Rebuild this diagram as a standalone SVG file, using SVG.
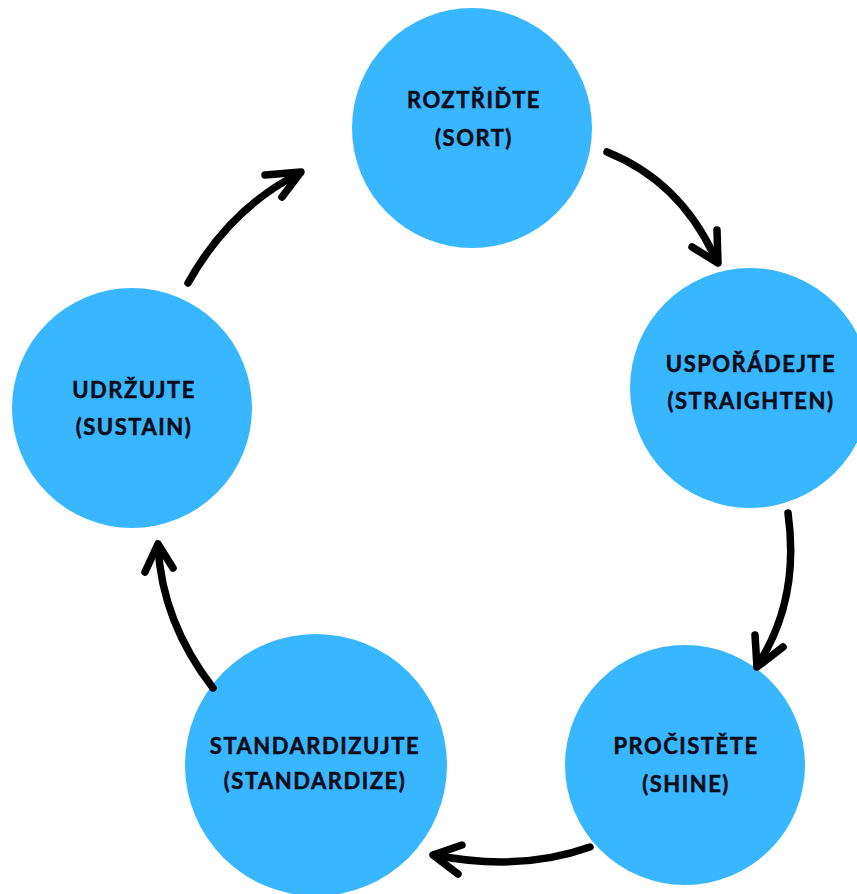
<svg xmlns="http://www.w3.org/2000/svg" width="857" height="894" viewBox="0 0 857 894">
<style>
.node circle{fill:#38b6ff}
.node text{font-family:Lato,"Liberation Sans",sans-serif;font-weight:bold;font-size:22px;letter-spacing:1.5px;fill:#0c0c18;stroke:#0c0c18;stroke-width:0.5px;text-anchor:middle}
.arrow{fill:none;stroke:#000;stroke-width:7.5;stroke-linecap:round;stroke-linejoin:round}
</style>
<rect width="857" height="894" fill="#fff"/>
<g id="n-sort" class="node">
<circle cx="472" cy="128" r="120"/>
<text x="474" y="108">ROZTŘIĎTE</text>
<text x="474" y="146">(SORT)</text>
</g>
<g id="n-straighten" class="node">
<circle cx="750" cy="388" r="120"/>
<text x="751" y="372">USPOŘÁDEJTE</text>
<text x="751" y="409">(STRAIGHTEN)</text>
</g>
<g id="n-shine" class="node">
<circle cx="685" cy="765" r="120"/>
<text x="686" y="754">PROČISTĚTE</text>
<text x="686" y="792">(SHINE)</text>
</g>
<g id="n-standardize" class="node">
<circle cx="316" cy="765" r="131"/>
<text x="315" y="754">STANDARDIZUJTE</text>
<text x="315" y="789">(STANDARDIZE)</text>
</g>
<g id="n-sustain" class="node">
<circle cx="132" cy="408" r="120"/>
<text x="134" y="398">UDRŽUJTE</text>
<text x="134" y="435">(SUSTAIN)</text>
</g>
<g id="connectors">
<path class="arrow" d="M188,283 Q230,208 300,173"/>
<path class="arrow" d="M265,175 L301,172 L282,197"/>
<path class="arrow" d="M607,152 Q682,182 717,262"/>
<path class="arrow" d="M717,230 L718,263 L692,247"/>
<path class="arrow" d="M788,513 C796,570 786,622 757,666"/>
<path class="arrow" d="M755,635 L757,667 L783,647"/>
<path class="arrow" d="M590,847 Q520,872 434,855"/>
<path class="arrow" d="M462,845 L433,855 L458,874"/>
<path class="arrow" d="M213,688 Q162,622 158,546"/>
<path class="arrow" d="M145,572 L158,544 L173,568"/>
</g>
</svg>
